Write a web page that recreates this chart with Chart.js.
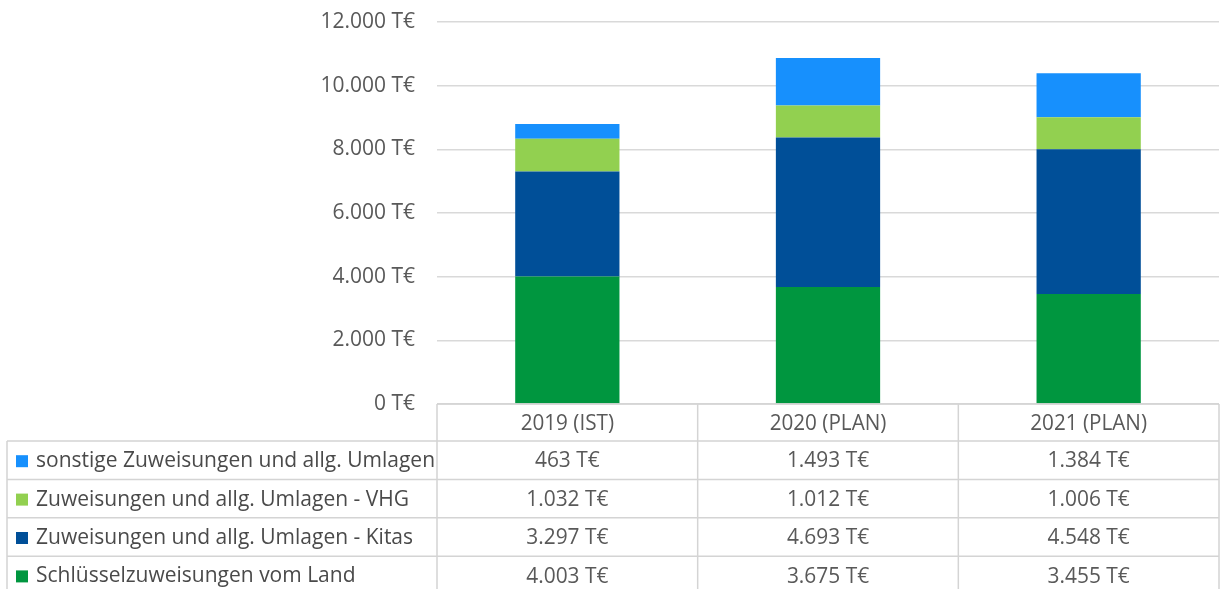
<!DOCTYPE html>
<html>
<head>
<meta charset="utf-8">
<script src="https://cdn.jsdelivr.net/npm/chart.js@4.4.1/dist/chart.umd.min.js"></script>
<style>
  html, body { margin: 0; padding: 0; background: #fff; }
  #wrap { width: 1220px; height: 589px; }
</style>
</head>
<body>
<div id="wrap"><canvas id="zuweisungen" width="1220" height="589"></canvas></div>
<script>
  'use strict';

  // data (T€)
  var categories = ['2019 (IST)', '2020 (PLAN)', '2021 (PLAN)'];
  var schluessel = [4003, 3675, 3455];
  var kitas      = [3297, 4693, 4548];
  var vhg        = [1032, 1012, 1006];
  var sonstige   = [463, 1493, 1384];

  var seriesNames = [
    'Schlüsselzuweisungen vom Land',
    'Zuweisungen und allg. Umlagen - Kitas',
    'Zuweisungen und allg. Umlagen - VHG',
    'sonstige Zuweisungen und allg. Umlagen'
  ];
  var seriesColors = ['#00963f', '#004f98', '#92d050', '#1790fd'];

  var yMax = 12000;
  var yStep = 2000;

  var fontFamily = '"Open Sans", "Liberation Sans", sans-serif';
  var textColor = '#595959';
  var lineColor = '#d4d4d4';

  // 1.493 T€ style
  function fmt(v) {
    return String(v).replace(/\B(?=(\d{3})+(?!\d))/g, '.') + ' T€';
  }

  // draws text squeezed a little horizontally
  function squeezed(ctx, text, x, y, sx) {
    ctx.save();
    ctx.translate(x, y);
    ctx.scale(sx, 1);
    ctx.fillText(text, 0, 0);
    ctx.restore();
  }

  // data table under the bars
  var dataTable = {
    id: 'dataTable',
    afterDraw: function (chart) {
      var ctx = chart.ctx;
      var area = chart.chartArea;
      var xs = chart.scales.x;
      var colW = (area.right - area.left) / categories.length;
      var headTop = area.bottom;
      var headBottom = headTop + 37;
      var rowH = 38.4;
      var tableLeft = 7;
      var tableBottom = headBottom + rowH * 4;
      var i, r;

      ctx.save();
      ctx.strokeStyle = lineColor;
      ctx.lineWidth = 1.5;
      ctx.beginPath();
      // header row
      ctx.moveTo(area.left, headTop);
      ctx.lineTo(area.right, headTop);
      for (i = 0; i <= categories.length; i++) {
        var vx = Math.min(area.left + i * colW, 1219);
        ctx.moveTo(vx, headTop);
        ctx.lineTo(vx, tableBottom);
      }
      ctx.moveTo(tableLeft, headBottom);
      ctx.lineTo(tableLeft, tableBottom);
      for (r = 0; r <= 4; r++) {
        var hy = headBottom + r * rowH;
        ctx.moveTo(tableLeft, hy);
        ctx.lineTo(area.right, hy);
      }
      ctx.stroke();

      ctx.textBaseline = 'middle';
      ctx.font = '22px ' + fontFamily;

      // category headers
      ctx.fillStyle = textColor;
      ctx.textAlign = 'center';
      for (i = 0; i < categories.length; i++) {
        squeezed(ctx, categories[i], xs.getPixelForValue(i), (headTop + headBottom) / 2 + 1, 0.94);
      }

      // rows: top row is the top of the stack
      var ds = chart.data.datasets;
      for (r = 0; r < ds.length; r++) {
        var d = ds[ds.length - 1 - r];
        var cy = headBottom + r * rowH + rowH / 2 + 1;
        ctx.fillStyle = textColor;
        ctx.textAlign = 'center';
        ctx.font = '22px ' + fontFamily;
        for (i = 0; i < d.data.length; i++) {
          squeezed(ctx, fmt(d.data[i]), xs.getPixelForValue(i), cy, 0.95);
        }
        ctx.fillStyle = d.backgroundColor;
        ctx.fillRect(16, cy - 6, 12, 12);
        ctx.fillStyle = '#4a4a4a';
        ctx.textAlign = 'left';
        ctx.font = '21px ' + fontFamily;
        ctx.fillText(d.label, 36, cy);
      }
      ctx.restore();
    }
  };

  var values = [schluessel, kitas, vhg, sonstige];
  var datasets = values.map(function (arr, k) {
    return {
      label: seriesNames[k],
      data: arr,
      backgroundColor: seriesColors[k],
      borderWidth: 0,
      categoryPercentage: 1.0,
      barPercentage: 0.4
    };
  });

  var chart = new Chart(document.getElementById('zuweisungen').getContext('2d'), {
    type: 'bar',
    data: { labels: categories, datasets: datasets },
    options: {
      responsive: false,
      animation: false,
      devicePixelRatio: 1,
      layout: { padding: { top: 22, right: 1, bottom: 589 - 441, left: 0 } },
      plugins: {
        legend: { display: false },
        tooltip: { enabled: false }
      },
      scales: {
        x: {
          stacked: true,
          grid: { display: false },
          border: { display: false },
          ticks: { display: false },
          afterFit: function (scale) { scale.height = 37; }
        },
        y: {
          stacked: true,
          min: 0,
          max: yMax,
          border: { display: false },
          grid: { color: '#d9d9d9', lineWidth: 1.5, drawTicks: false },
          ticks: {
            stepSize: yStep,
            padding: 22,
            color: textColor,
            font: { family: fontFamily, size: 21 },
            callback: function (v) { return fmt(v); }
          },
          afterFit: function (scale) {
            scale.width = 437;
            scale.paddingTop = 0;
            scale.paddingBottom = 0;
          }
        }
      }
    },
    plugins: [dataTable]
  });
</script>
</body>
</html>
